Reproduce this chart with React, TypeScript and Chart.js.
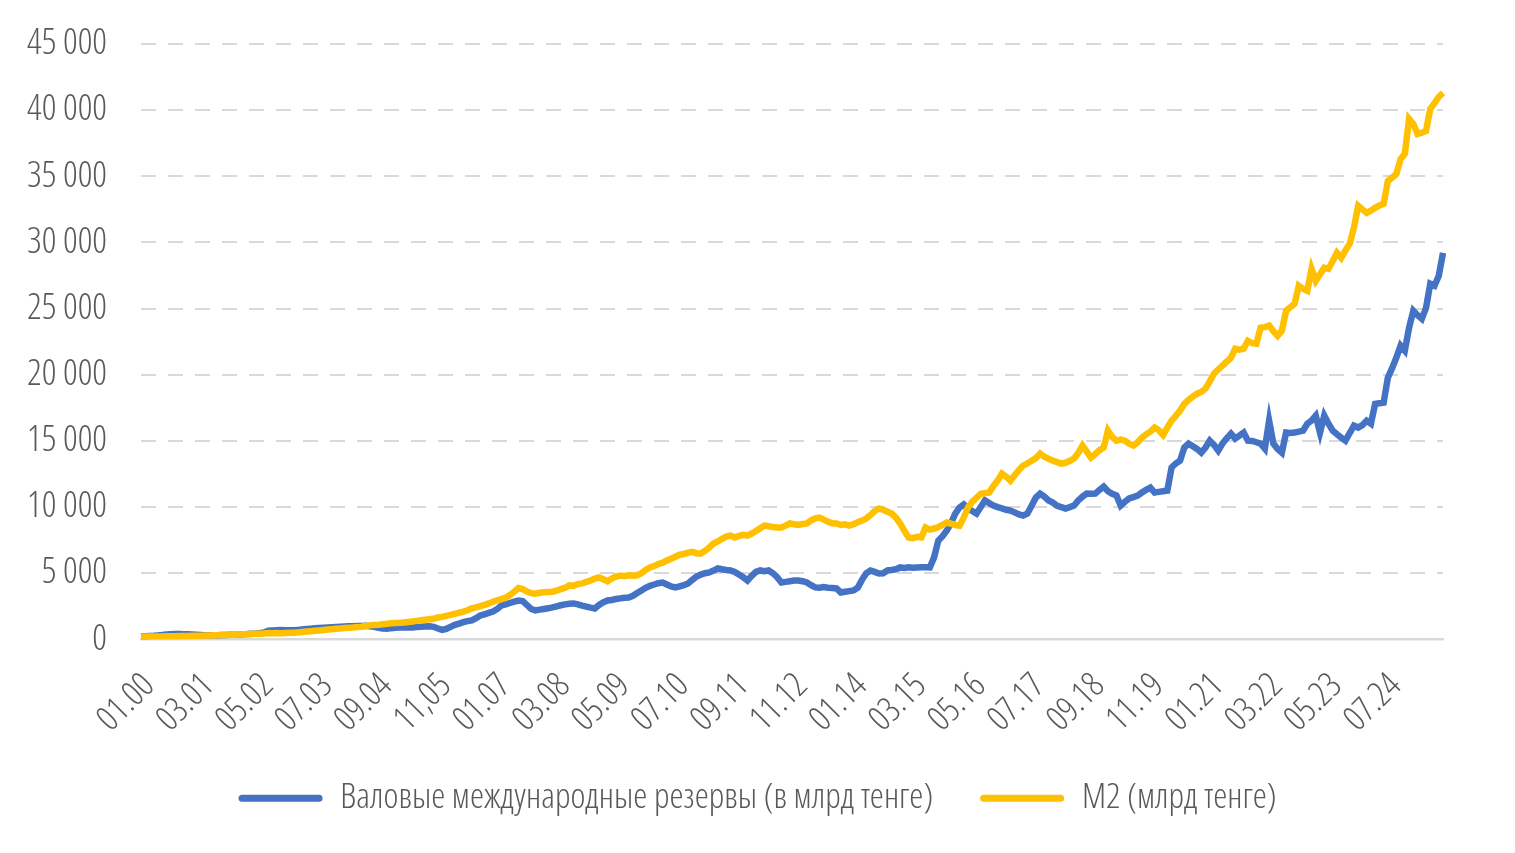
import React, { useEffect, useRef } from "react";
import { Chart, registerables } from "chart.js";

Chart.register(...registerables);

const startYear = 2000;
const tickEvery = 14;
const tickLabels = [
  "01.00", "03.01", "05.02", "07.03", "09.04", "11,05", "01.07", "03.08",
  "05.09", "07.10", "09.11", "11.12", "01.14", "03.15", "05.16", "07.17",
  "09.18", "11.19", "01.21", "03.22", "05.23", "07.24",
];
const yTicks = [0, 5000, 10000, 15000, 20000, 25000, 30000, 35000, 40000, 45000];

const reservesLabel = "Валовые международные резервы (в млрд тенге)";
const m2Label = "M2 (млрд тенге)";

// monthly, 01.2000 – 08.2025
const reserves = [
  220, 235, 250, 270, 300, 330, 370, 390, 400, 400, 395, 390,
  380, 360, 340, 320, 310, 310, 320, 330, 340, 350, 360, 370,
  390, 400, 420, 440, 470, 520, 650, 680, 700, 710, 700, 690,
  690, 720, 750, 780, 810, 840, 860, 880, 900, 920, 940, 960,
  980, 990, 1000, 1010, 1020, 1030, 1000, 950, 880, 820, 800, 850,
  880, 900, 920, 900, 900, 930, 950, 980, 1000, 950, 820, 720,
  800, 950, 1100, 1200, 1300, 1380, 1430, 1600, 1810, 1900, 2000, 2100,
  2300, 2570, 2650, 2750, 2850, 2940, 2900, 2600, 2300, 2190, 2250, 2300,
  2350, 2420, 2500, 2580, 2650, 2700, 2720, 2650, 2550, 2480, 2400, 2340,
  2600, 2800, 2940, 2980, 3050, 3100, 3150, 3170, 3300, 3500, 3700, 3900,
  4050, 4150, 4250, 4300, 4150, 4000, 3930, 4000, 4100, 4230, 4500, 4750,
  4900, 5000, 5060, 5200, 5360, 5300, 5250, 5210, 5100, 4900, 4700, 4450,
  4800, 5100, 5210, 5150, 5210, 5000, 4700, 4300, 4350, 4400, 4450, 4450,
  4400, 4300, 4100, 3930, 3900, 3950, 3900, 3880, 3850, 3550, 3600, 3650,
  3700, 3900, 4500, 5000, 5210, 5100, 4980, 5000, 5210, 5250, 5300, 5440,
  5400, 5450, 5420, 5440, 5450, 5460, 5440, 6200, 7470, 7800, 8230, 8800,
  9510, 9970, 10200, 9890, 9700, 9510, 10000, 10500, 10300, 10120, 10000, 9900,
  9800, 9740, 9600, 9450, 9360, 9510, 10100, 10720, 11020, 10800, 10500, 10340,
  10100, 10000, 9890, 10000, 10120, 10500, 10800, 11020, 11000, 11020, 11300, 11550,
  11200, 11000, 10870, 10120, 10400, 10650, 10750, 10870, 11100, 11300, 11470, 11100,
  11150, 11200, 11250, 12990, 13300, 13510, 14500, 14800, 14600, 14400, 14120, 14500,
  15020, 14700, 14270, 14800, 15200, 15550, 15170, 15400, 15630, 15020, 15000, 14900,
  14800, 14420, 16530, 14800, 14400, 14120, 15630, 15600, 15630, 15700, 15780, 16300,
  16530, 16910, 15630, 16910, 16300, 15780, 15500, 15250, 15020, 15600, 16150, 16010,
  16200, 16530, 16300, 17800, 17850, 17900, 19780, 20500, 21290, 22200, 21820, 23560,
  24840, 24500, 24230, 25060, 26880, 26730, 27480, 29220,
];

const m2 = [
  205, 210, 212, 218, 224, 228, 234, 240, 245, 250, 256, 263,
  270, 278, 285, 292, 300, 310, 318, 326, 335, 345, 355, 368,
  380, 392, 405, 418, 430, 452, 478, 470, 482, 468, 485, 495,
  500, 530, 560, 590, 620, 650, 680, 710, 740, 770, 800, 830,
  860, 880, 900, 930, 960, 1010, 1060, 1090, 1110, 1150, 1180, 1220,
  1240, 1255, 1280, 1320, 1360, 1400, 1440, 1480, 1520, 1560, 1660, 1700,
  1780, 1850, 1930, 2020, 2100, 2200, 2340, 2420, 2520, 2600, 2720, 2850,
  2950, 3050, 3150, 3350, 3600, 3880, 3800, 3620, 3500, 3450, 3520, 3560,
  3580, 3600, 3680, 3800, 3900, 4080, 4050, 4180, 4230, 4350, 4450, 4600,
  4680, 4550, 4400, 4600, 4750, 4830, 4780, 4850, 4820, 4850, 5000, 5250,
  5440, 5550, 5700, 5800, 5960, 6100, 6250, 6400, 6450, 6550, 6620, 6500,
  6490, 6700, 6950, 7250, 7400, 7600, 7780, 7850, 7700, 7820, 7900, 7850,
  8000, 8200, 8400, 8600, 8550, 8500, 8460, 8460, 8600, 8760, 8700, 8650,
  8720, 8760, 9000, 9150, 9210, 9050, 8900, 8780, 8760, 8650, 8700, 8600,
  8700, 8850, 8980, 9130, 9400, 9700, 9890, 9800, 9650, 9510, 9200, 8760,
  8200, 7700, 7650, 7750, 7700, 8460, 8300, 8380, 8500, 8650, 8830, 8750,
  8650, 8600, 9200, 9970, 10400, 10700, 11000, 11050, 11100, 11600, 12000, 12530,
  12300, 12000, 12400, 12800, 13140, 13300, 13510, 13700, 14040, 13800, 13650, 13510,
  13400, 13290, 13350, 13500, 13670, 14100, 14650, 14200, 13740, 14000, 14300, 14500,
  15780, 15300, 15020, 15100, 15020, 14800, 14650, 14900, 15250, 15500, 15700, 16010,
  15800, 15450, 16000, 16530, 16900, 17300, 17800, 18100, 18350, 18570, 18700, 18950,
  19500, 20080, 20400, 20700, 21000, 21290, 21970, 21900, 21970, 22570, 22400, 22350,
  23560, 23600, 23710, 23300, 22950, 23330, 24840, 25100, 25370, 26730, 26500, 26350,
  28010, 27100, 27600, 28090, 28010, 28600, 29220, 28840, 29400, 29900, 31110, 32770,
  32500, 32240, 32400, 32620, 32800, 32920, 34650, 34900, 35180, 36310, 36690, 39340,
  38960, 38200, 38300, 38430, 40090, 40540, 41000, 41300,
];

const categories = reserves.map((_, i) => {
  const mm = String((i % 12) + 1).padStart(2, "0");
  const yy = String((startYear + Math.floor(i / 12)) % 100).padStart(2, "0");
  return `${mm}.${yy}`;
});

const FAMILY = "'Open Sans', sans-serif";
const WEIGHT = "300 condensed";
const TEXT = "#595959";
const GRID = "#D9D9D9";
const BLUE = "#4472C4";
const YELLOW = "#FFC000";

const fmt = (v: number) => String(v).replace(/\B(?=(\d{3})+(?!\d))/g, " ");

export default function App() {
  const ref = useRef<HTMLCanvasElement | null>(null);

  useEffect(() => {
    document.body.style.margin = "0";
    const canvas = ref.current;
    if (!canvas) return;
    const chart = new Chart(canvas, {
      type: "line",
      data: {
        labels: categories,
        datasets: [
          {
            label: reservesLabel,
            data: reserves,
            borderColor: BLUE,
            backgroundColor: BLUE,
            borderWidth: 6.5,
            pointRadius: 0,
            tension: 0,
            order: 1,
          },
          {
            label: m2Label,
            data: m2,
            borderColor: YELLOW,
            backgroundColor: YELLOW,
            borderWidth: 6.5,
            pointRadius: 0,
            tension: 0,
            order: 0,
          },
        ],
      },
      options: {
        responsive: false,
        animation: false,
        layout: { autoPadding: false, padding: { top: 44, right: 0, bottom: 27, left: 0 } },
        plugins: {
          tooltip: { enabled: false },
          legend: {
            position: "bottom",
            labels: {
              boxWidth: 84,
              boxHeight: 7,
              useBorderRadius: true,
              borderRadius: 3.5,
              padding: 47,
              color: TEXT,
              font: { family: FAMILY, weight: WEIGHT, size: 35.6 },
              sort: (a: any, b: any) => a.datasetIndex - b.datasetIndex,
              generateLabels: (c: any) =>
                Chart.defaults.plugins.legend.labels
                  .generateLabels(c)
                  .map((l: any) => ({ ...l, lineWidth: 0 })),
            },
          },
        },
        scales: {
          x: {
            type: "category",
            offset: false,
            grid: { display: false },
            border: { display: true, color: GRID, width: 2.5 },
            ticks: {
              autoSkip: false,
              minRotation: 45,
              maxRotation: 45,
              padding: 18,
              labelOffset: 8,
              color: TEXT,
              font: { family: FAMILY, weight: WEIGHT, size: 35 },
              callback: (_v: any, i: number) =>
                i % tickEvery === 0 && tickLabels[i / tickEvery] ? tickLabels[i / tickEvery] : null,
            },
            afterFit: (s: any) => {
              s.height = 94;
              s.paddingLeft = 0;
              s.paddingRight = 0;
            },
          },
          y: {
            min: yTicks[0],
            max: yTicks[yTicks.length - 1],
            afterBuildTicks: (s: any) => {
              s.ticks = yTicks.map((v) => ({ value: v }));
            },
            grid: { color: GRID, lineWidth: 2, drawTicks: false },
            border: { display: false, dash: [15, 12] },
            ticks: {
              padding: 34,
              color: TEXT,
              font: { family: FAMILY, weight: WEIGHT, size: 36 },
              callback: (v: any) => fmt(Number(v)),
            },
            afterFit: (s: any) => {
              s.width = 141;
              s.paddingTop = 0;
              s.paddingBottom = 0;
            },
          },
          rightSpace: {
            type: "linear",
            position: "right",
            display: true,
            grid: { display: false },
            border: { display: false },
            ticks: { display: false },
            afterFit: (s: any) => {
              s.width = 72;
              s.paddingTop = 0;
              s.paddingBottom = 0;
            },
          },
        },
      },
    } as any);
    return () => chart.destroy();
  }, []);

  return (
    <div style={{ position: "absolute", left: 0, top: 0, width: 1515, height: 853, background: "#fff" }}>
      <canvas ref={ref} width={1515} height={853} style={{ width: 1515, height: 853, display: "block" }} />
    </div>
  );
}
